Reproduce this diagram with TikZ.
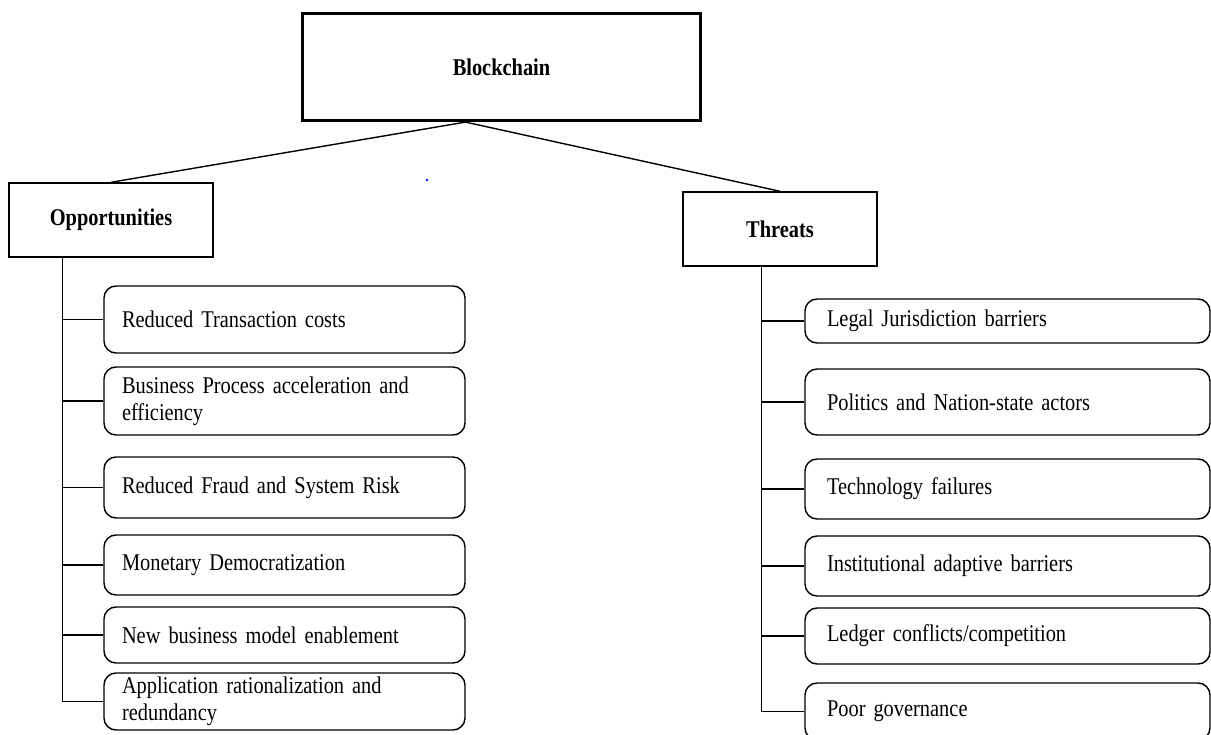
\documentclass[tikz,border=0pt]{standalone}
\usepackage{fontspec}
\setmainfont{Liberation Serif}[FakeStretch=0.85]

\begin{document}
\begin{tikzpicture}[x=1pt,y=-1pt,
  every node/.style={font=\fontsize{24}{27}\selectfont},
  rootbox/.style={draw,line width=3.2pt,minimum width=398pt,minimum height=107pt,
    font=\bfseries\fontsize{24}{27}\selectfont},
  groupbox/.style={draw,line width=1.4pt,minimum height=74pt,
    font=\bfseries\fontsize{24}{27}\selectfont},
  oppbox/.style={draw,line width=1.4pt,rounded corners=12pt,align=left,
    text width=325pt,inner xsep=18pt,inner ysep=2pt},
  thrbox/.style={draw,line width=1.4pt,rounded corners=12pt,align=left,
    text width=361pt,inner xsep=22pt,inner ysep=2pt},
  link/.style={line width=1.4pt}]
\useasboundingbox (0,0) rectangle (1211,735);

\node[rootbox] (root) at (501.5,67) {Blockchain};
\node[groupbox,minimum width=204pt] (opp) at (111,220) {Opportunities};
\node[groupbox,minimum width=194pt] (thr) at (780,229) {Threats};
\coordinate (fork) at ([xshift=-36pt]root.south);
\draw[link] (fork) -- (opp.north);
\draw[link] (fork) -- (thr.north);
\fill[blue] (427,180) circle (1.3pt);

\node[oppbox,minimum height=67pt] (o1) at (284.5,319.5) {Reduced Transaction costs};
\node[oppbox,minimum height=68pt] (o2) at (284.5,401) {Business Process acceleration and\\efficiency};
\node[oppbox,minimum height=61pt] (o3) at (284.5,487.5) {Reduced Fraud and System Risk};
\node[oppbox,minimum height=60pt] (o4) at (284.5,565) {Monetary Democratization};
\node[oppbox,minimum height=56pt] (o5) at (284.5,635) {New business model enablement};
\node[oppbox,minimum height=57pt] (o6) at (284.5,701.5) {Application rationalization and\\redundancy};

\node[thrbox,minimum height=44pt] (t1) at (1007.5,321) {Legal Jurisdiction barriers};
\node[thrbox,minimum height=66pt] (t2) at (1007.5,402) {Politics and Nation-state actors};
\node[thrbox,minimum height=60pt] (t3) at (1007.5,489) {Technology failures};
\node[thrbox,minimum height=60pt] (t4) at (1007.5,566) {Institutional adaptive barriers};
\node[thrbox,minimum height=56pt] (t5) at (1007.5,636) {Ledger conflicts/competition};
\node[thrbox,minimum height=57pt] (t6) at (1007.5,711.5) {Poor governance};

\coordinate (ospine) at ([xshift=54pt]opp.south west);
\coordinate (tspine) at ([xshift=79pt]thr.south west);
\draw[link] (ospine) |- (o6.west);
\foreach \n in {1,...,5}
  \draw[link] (o\n.west -| ospine) -- (o\n.west);
\draw[link] (tspine) |- (t6.west);
\foreach \n in {1,...,5}
  \draw[link] (t\n.west -| tspine) -- (t\n.west);
\end{tikzpicture}
\end{document}
